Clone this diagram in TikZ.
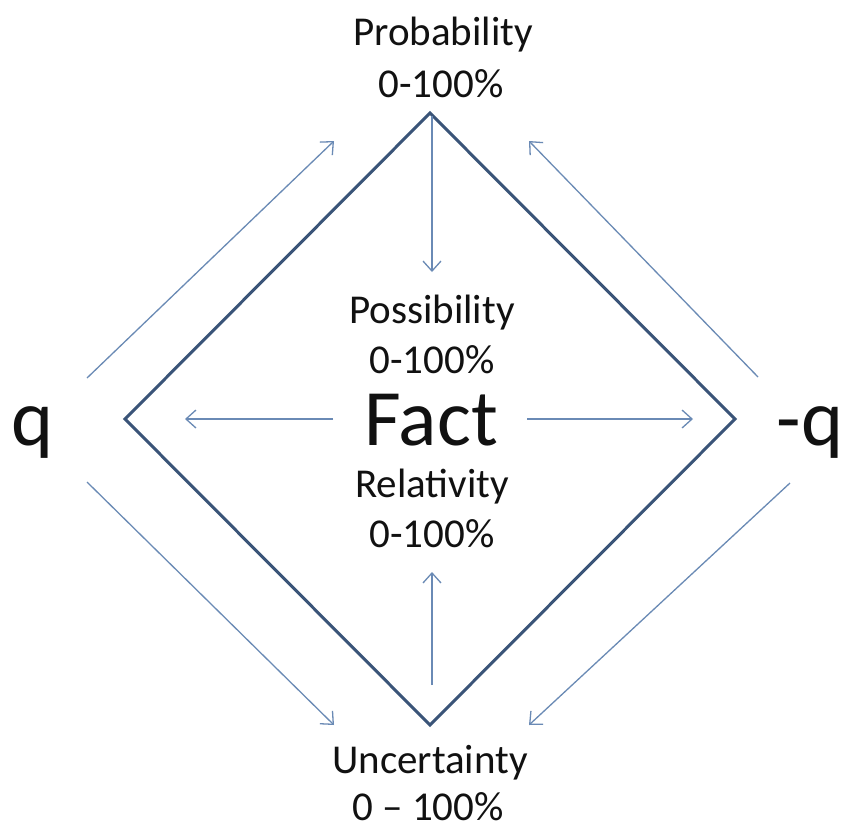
\documentclass[tikz,border=0pt]{standalone}
\usepackage{fontspec}
\setmainfont{Carlito}
\usetikzlibrary{arrows.meta}
\definecolor{edgeblue}{HTML}{3A5478}
\definecolor{arrblue}{HTML}{6A8AB5}
\definecolor{txt}{HTML}{111111}
\begin{document}
\begin{tikzpicture}[x=1pt,y=-1pt,
  label/.style={anchor=base,inner sep=0pt,text=txt,font=\fontsize{41}{49}\selectfont},
  big/.style={anchor=base,inner sep=0pt,text=txt,font=\fontsize{80}{96}\selectfont},
  diam/.style={draw=edgeblue,line width=3pt,line join=miter},
  flow/.style={draw=arrblue,line width=1.3pt,-{Straight Barb[length=10pt,width=18pt,line width=1.3pt]}}]
\fill[white] (0,0) rectangle (863,831);
\useasboundingbox (0,0) rectangle (863,831);
% diamond corners
\coordinate (T) at (430,113);
\coordinate (L) at (125,419);
\coordinate (R) at (735,419);
\coordinate (B) at (430,725);
\draw[diam] (T) -- (L) -- (B) -- (R) -- cycle;
% texts
\node[label] (prob) at (443,45) {Probability};
\node[label] (probv) at (441,97) {0-100\%};
\node[label] (poss) at (432,323) {Possibility};
\node[label] (possv) at (432,373) {0-100\%};
\node[big] (fact) at (431,445) {Fact};
\node[label] (rel) at (432,497) {Relativity};
\node[label] (relv) at (432,547) {0-100\%};
\node[label] (unc) at (430,773) {Uncertainty};
\node[label] (uncv) at (428,820) {0 -- 100\%};
\node[big] (q) at (33,445) {q};
\node[big] (nq) at (810,445) {-q};
% arrow end points
\coordinate (a1s) at (432,116);
\coordinate (a1e) at (432,272);
\coordinate (a2s) at (432,685);
\coordinate (a2e) at (432,572);
\coordinate (a3s) at (333,419);
\coordinate (a3e) at (185,419);
\coordinate (a4s) at (527,419);
\coordinate (a4e) at (693,419);
\coordinate (a5s) at (87,378);
\coordinate (a5e) at (334,141);
\coordinate (a6s) at (758,377);
\coordinate (a6e) at (529,141);
\coordinate (a7s) at (87,482);
\coordinate (a7e) at (334,725);
\coordinate (a8s) at (790,483);
\coordinate (a8e) at (529,725);
\draw[flow] (a1s) -- (a1e);
\draw[flow] (a2s) -- (a2e);
\draw[flow] (a3s) -- (a3e);
\draw[flow] (a4s) -- (a4e);
\draw[flow] (a5s) -- (a5e);
\draw[flow] (a6s) -- (a6e);
\draw[flow] (a7s) -- (a7e);
\draw[flow] (a8s) -- (a8e);
\end{tikzpicture}
\end{document}
